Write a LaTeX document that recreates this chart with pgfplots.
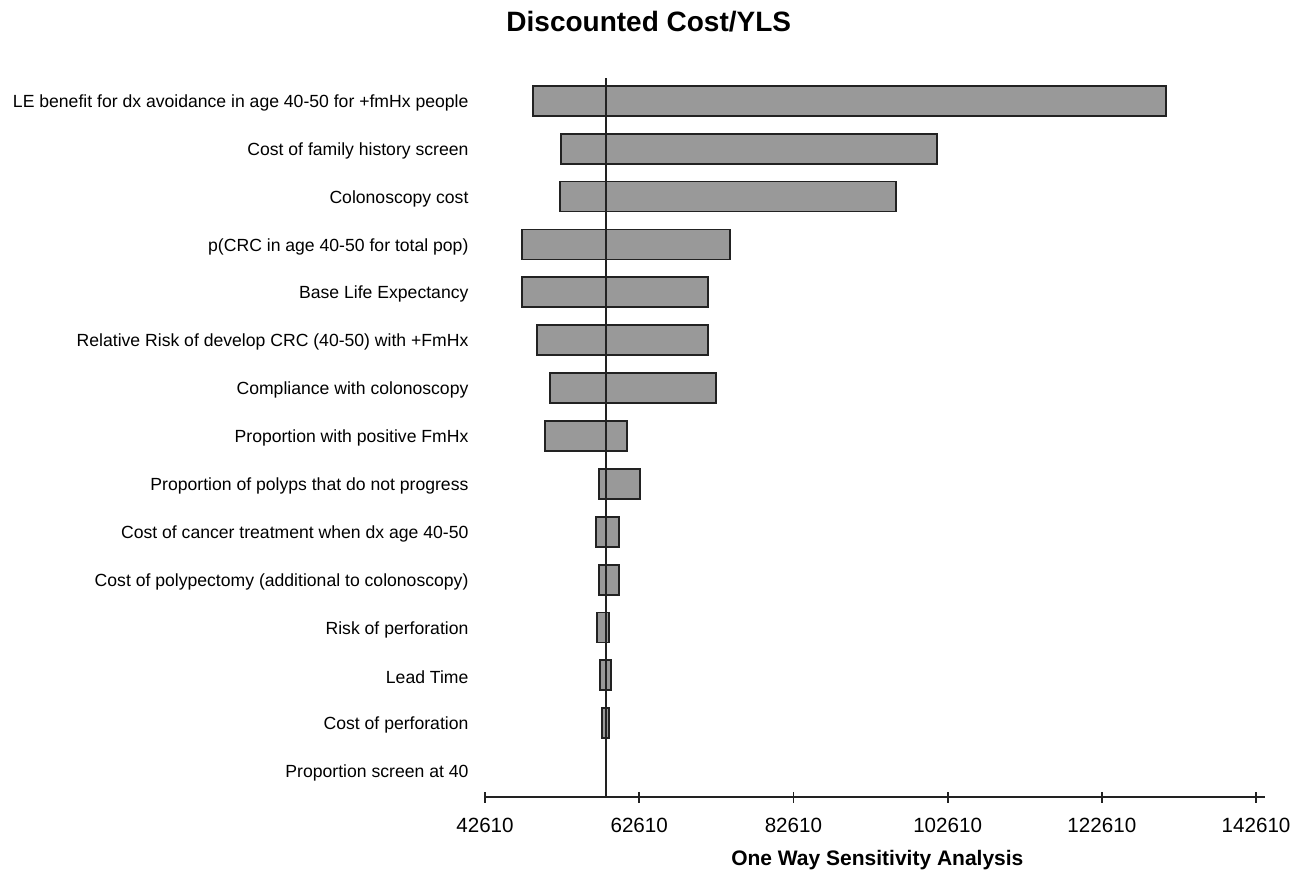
\documentclass[border=0pt]{standalone}
\usepackage{fontspec}
\setmainfont{Liberation Sans}
\usepackage{pgfplots}
\usepackage{pgfplotstable}
\pgfplotsset{compat=1.18}

\definecolor{barfill}{HTML}{999999}
\definecolor{edge}{HTML}{222222}

% row (15 = top), low and high value of the ratio
\pgfplotstableread{
row lo hi
15 48875 130897
14 52506 101234
13 52376 95878
12 47370 74425
11 47370 71572
10 49315 71533
9  51040 72532
8  50431 60988
7  57357 62713
6  56968 60029
5  57357 60029
4  57136 58732
3  57487 58913
2  57746 58732
}\bars

\begin{document}
\begin{tikzpicture}
\begin{axis}[
  name=ax,
  scale only axis, width=390pt, height=359.35pt,
  xmin=42610, xmax=143770, ymin=0.46, ymax=15.47,
  axis x line*=bottom, axis y line*=left,
  y axis line style={draw=none},
  x axis line style={line width=0.9pt, color=edge},
  xbar stacked, bar width=15pt,
  scaled x ticks=false,
  xtick={42610,62610,82610,102610,122610,142610},
  xticklabels={42610,62610,82610,102610,122610,142610},
  tick align=center, major tick length=5.5pt,
  xtick style={line width=0.9pt, color=edge},
  ytick={1,...,15},
  yticklabels={Proportion screen at 40,Cost of perforation,Lead Time,Risk of perforation,
    Cost of polypectomy (additional to colonoscopy),Cost of cancer treatment when dx age 40-50,
    Proportion of polyps that do not progress,Proportion with positive FmHx,
    Compliance with colonoscopy,Relative Risk of develop CRC (40-50) with +FmHx,
    Base Life Expectancy,p(CRC in age 40-50 for total pop),Colonoscopy cost,
    Cost of family history screen,LE benefit for dx avoidance in age 40-50 for +fmHx people},
  ytick style={draw=none},
  yticklabel style={font=\fontsize{8.8pt}{10pt}\selectfont, xshift=-2pt, yshift=-1pt},
  xticklabel style={font=\fontsize{10.3pt}{12pt}\selectfont, yshift=-4.5pt},
  /pgf/number format/assume math mode=true,
  xlabel={One Way Sensitivity Analysis},
  xlabel style={font=\bfseries\fontsize{10.5pt}{12pt}\selectfont, at={(axis description cs:0.503,-0.088)}, anchor=center},
  title={Discounted Cost/YLS},
  title style={font=\bfseries\fontsize{14pt}{16pt}\selectfont, at={(axis description cs:0.21,1.062)}, anchor=center},
  clip=true,
]
\addplot[draw=none, fill=none] table[x=lo, y=row] {\bars};
\addplot[fill=barfill, draw=edge, line width=0.9pt] table[x expr=\thisrow{hi}-\thisrow{lo}, y=row] {\bars};
\end{axis}
\begin{axis}[
  scale only axis, width=390pt, height=359.35pt,
  xmin=42610, xmax=143770, ymin=0.46, ymax=15.47,
  hide axis, clip=false,
]
\addplot[edge, line width=0.9pt] coordinates {(58304,0.46) (58304,15.47)};
\end{axis}
\pgfresetboundingbox
\path[use as bounding box] ([xshift=-242.5pt,yshift=-38.5pt]ax.south west) rectangle ([xshift=412pt,yshift=398.5pt]ax.south west);
\end{tikzpicture}
\end{document}
